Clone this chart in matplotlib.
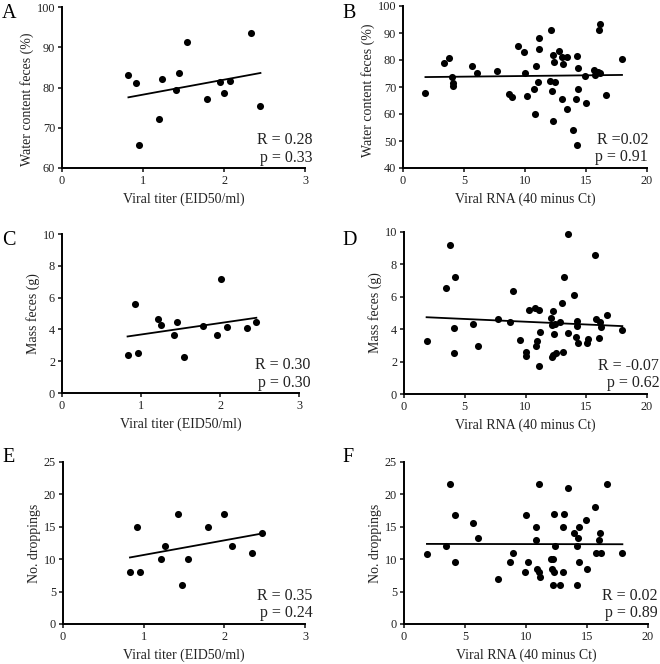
import numpy as np
import matplotlib
matplotlib.use("Agg")
import matplotlib.pyplot as plt

plt.rcParams['font.family'] = ['Liberation Serif', 'DejaVu Serif']

# panel A / C / E : viral titer
titer_a = [0.82, 0.91, 0.95, 1.20, 1.24, 1.41, 1.45, 1.54, 1.79, 1.95, 2.00, 2.08, 2.33, 2.45]
water_a = [83.1, 81.0, 65.7, 72.1, 82.0, 79.4, 83.5, 91.2, 77.1, 81.3, 78.6, 81.5, 93.5, 75.3]

titer_c = [0.83, 0.92, 0.96, 1.21, 1.25, 1.42, 1.46, 1.55, 1.79, 1.96, 2.01, 2.09, 2.34, 2.46]
mass_c = [2.36, 5.58, 2.53, 4.65, 4.29, 3.62, 4.44, 2.25, 4.19, 3.66, 7.16, 4.17, 4.06, 4.48]

titer_e = [0.83, 0.92, 0.96, 1.21, 1.26, 1.42, 1.47, 1.55, 1.80, 2.00, 2.09, 2.34, 2.47]
drop_e = [8, 15, 8, 10, 12, 17, 6, 10, 15, 17, 12, 11, 14]

# panel B / D / F : viral RNA
rna_b = [1.84, 3.37, 3.73, 4.05, 4.11, 4.11, 5.64, 6.08, 7.67, 8.68, 8.93, 9.45, 9.95,
         10.03, 10.16, 10.77, 10.79, 10.88, 11.12, 11.18, 11.07, 12.14, 12.03, 12.25,
         12.27, 12.33, 12.36, 12.44, 12.77, 13.04, 13.12, 13.07, 13.48, 13.48, 13.95,
         14.14, 14.25, 14.33, 14.30, 14.33, 14.93, 15.04, 15.67, 15.73, 16.08, 16.14,
         16.00, 16.16, 16.63, 17.95]
water_b = [67.6, 79.0, 80.8, 73.7, 71.4, 70.4, 77.6, 75.3, 76.0, 67.5, 66.2, 85.1, 83.1,
           75.3, 66.7, 69.2, 60.0, 77.6, 88.2, 84.2, 71.9, 91.1, 72.3, 68.4,
           57.5, 81.7, 79.3, 71.9, 83.5, 81.0, 78.5, 65.7, 81.1, 61.7, 54.0,
           65.5, 81.3, 76.9, 48.5, 69.1, 74.1, 64.1, 76.2, 74.6, 91.1, 93.3,
           75.5, 75.3, 67.2, 80.3]

rna_d = [1.86, 3.45, 3.78, 4.22, 4.14, 4.14, 5.70, 6.11, 7.70, 8.74, 8.96, 9.51, 10.00,
         10.08, 10.25, 10.82, 10.90, 10.96, 11.12, 11.15, 11.23, 12.08, 12.25, 12.19,
         12.16, 12.30, 12.38, 12.47, 12.44, 12.85, 13.04, 13.10, 13.18, 13.51, 13.51,
         14.03, 14.19, 14.27, 14.27, 14.36, 15.04, 15.12, 15.75, 15.78, 16.05, 16.11,
         16.19, 16.68, 17.97]
mass_d = [3.25, 6.54, 9.18, 7.24, 4.09, 2.53, 4.32, 2.96, 4.61, 4.47, 6.36, 3.31, 2.37,
          2.59, 5.21, 5.33, 2.98, 3.25, 5.16, 1.73, 3.85, 4.71, 5.12, 4.26,
          2.28, 2.41, 3.68, 2.51, 4.34, 4.47, 5.62, 2.57, 7.20, 3.74, 9.90,
          6.11, 3.54, 4.49, 4.20, 3.17, 3.13, 3.37, 8.60, 4.63, 3.44, 4.47,
          4.14, 4.90, 3.97]

rna_f = [1.88, 3.43, 3.79, 4.22, 4.14, 5.69, 6.10, 7.68, 8.72, 8.94, 9.92, 10.03, 10.19,
         10.82, 10.82, 10.87, 11.09, 11.09, 11.17, 12.07, 12.18, 12.15, 12.21, 12.29,
         12.34, 12.32, 12.78, 13.00, 13.05, 13.13, 13.46, 13.95, 14.14, 14.20, 14.25,
         14.31, 14.31, 14.90, 15.01, 15.69, 15.75, 15.99, 16.08, 16.16, 16.62, 17.90]
drop_f = [10.8, 12.0, 21.6, 16.8, 9.6, 15.6, 13.2, 7.0, 9.6, 11.0, 8.0, 16.8, 9.6,
          15.0, 13.0, 8.45, 8.0, 21.6, 7.2, 10.0, 10.0, 8.45, 6.0, 8.0,
          12.0, 17.0, 6.0, 15.0, 8.0, 17.0, 21.0, 14.0, 6.0, 12.0, 13.2,
          15.0, 9.6, 16.0, 8.45, 18.0, 11.0, 13.0, 14.0, 11.0, 21.6, 11.0]

W, H = 660, 664
fig = plt.figure(figsize=(W / 100, H / 100), dpi=100)


def px_axes(l, t, r, b):
    return fig.add_axes([l / W, 1 - b / H, (r - l) / W, (b - t) / H])


panels = [
    # letter, letter pos, box (l,t,r,b), x, y, xlim, xticks, ylim, yticks, xlabel, ylabel, R, p, text right, ylabel y
    ("A", (2, 13), (62, 7, 305, 168), titer_a, water_a, (0, 3), [0, 1, 2, 3], (60, 100), [60, 70, 80, 90, 100],
     "Viral titer (EID50/ml)", "Water content feces (%)", "R = 0.28", "p = 0.33", 1.03, 0.43),
    ("B", (342, 13), (403, 6, 647, 168), rna_b, water_b, (0, 20), [0, 5, 10, 15, 20], (40, 100), [40, 50, 60, 70, 80, 90, 100],
     "Viral RNA (40 minus Ct)", "Water content feces (%)", "R =0.02", "p = 0.91", 1.005, 0.48),
    ("C", (2, 240), (62, 234, 299, 393), titer_c, mass_c, (0, 3), [0, 1, 2, 3], (0, 10), [0, 2, 4, 6, 8, 10],
     "Viral titer (EID50/ml)", "Mass feces (g)", "R = 0.30", "p = 0.30", 1.05, 0.5),
    ("D", (342, 240), (404, 232, 647, 394), rna_d, mass_d, (0, 20), [0, 5, 10, 15, 20], (0, 10), [0, 2, 4, 6, 8, 10],
     "Viral RNA (40 minus Ct)", "Mass feces (g)", "R = -0.07", "p = 0.62", 1.05, 0.5),
    ("E", (2, 457), (63, 462, 305, 624), titer_e, drop_e, (0, 3), [0, 1, 2, 3], (0, 25), [0, 5, 10, 15, 20, 25],
     "Viral titer (EID50/ml)", "No. droppings", "R = 0.35", "p = 0.24", 1.03, 0.5),
    ("F", (342, 457), (404, 462, 648, 624), rna_f, drop_f, (0, 20), [0, 5, 10, 15, 20], (0, 25), [0, 5, 10, 15, 20, 25],
     "Viral RNA (40 minus Ct)", "No. droppings", "R = 0.02", "p = 0.89", 1.04, 0.5),
]

for (letter, lpos, box, x, y, xlim, xticks, ylim, yticks, xlab, ylab, rtxt, ptxt, tx, ly) in panels:
    ax = px_axes(*box)
    x = np.asarray(x)
    y = np.asarray(y)
    ax.scatter(x, y, s=26, color="black", zorder=3, clip_on=False, linewidths=0)
    slope, icpt = np.polyfit(x, y, 1)
    xs = np.array([x.min(), x.max()])
    ax.plot(xs, slope * xs + icpt, color="black", lw=1.3)
    ax.set_xlim(*xlim)
    ax.set_ylim(*ylim)
    ax.set_xticks(xticks)
    ax.set_yticks(yticks)
    for s in ("top", "right"):
        ax.spines[s].set_visible(False)
    for s in ("left", "bottom"):
        ax.spines[s].set_linewidth(1.4)
    ax.tick_params(direction="out", length=3, width=1.2, labelsize=8.8, pad=2, colors="#222222")
    ax.set_xlabel(xlab, fontsize=10, labelpad=4, color="#222222")
    ax.set_ylabel(ylab, fontsize=10, labelpad=2, color="#222222")
    ax.yaxis.label.set_y(ly)
    ax.text(tx, 0.175, rtxt, transform=ax.transAxes, ha="right", va="center", fontsize=11.5, color="#222222")
    ax.text(tx, 0.065, ptxt, transform=ax.transAxes, ha="right", va="center", fontsize=11.5, color="#222222")
    fig.text(lpos[0] / W, 1 - lpos[1] / H, letter, fontsize=14.5, ha="left", va="center")

fig.savefig("out.png", dpi=100)
